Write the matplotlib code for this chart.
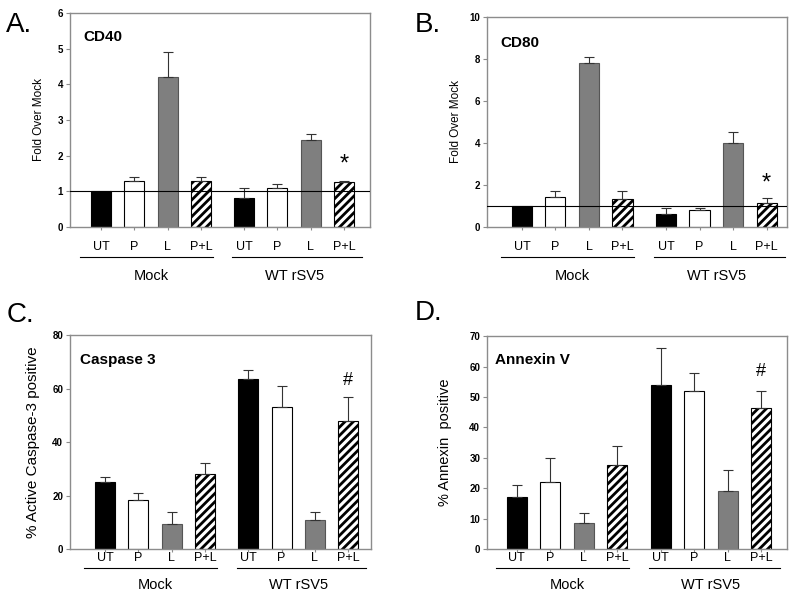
import matplotlib
matplotlib.use("Agg")
import matplotlib.pyplot as plt
import matplotlib.transforms as mtransforms

plt.rcParams["font.family"] = ["Liberation Sans", "DejaVu Sans"]
plt.rcParams["hatch.linewidth"] = 2.0

treatments = ["UT", "P", "L", "P+L"]
groups = ["Mock", "WT rSV5"]

# values (mean, top of error bar)
cd40_mean = [1.0, 1.3, 4.2, 1.3, 0.82, 1.1, 2.45, 1.25]
cd40_top = [1.0, 1.4, 4.9, 1.4, 1.1, 1.2, 2.6, 1.3]
cd80_mean = [1.0, 1.45, 7.8, 1.35, 0.6, 0.8, 4.0, 1.15]
cd80_top = [1.0, 1.7, 8.1, 1.7, 0.9, 0.9, 4.5, 1.4]
casp_mean = [25, 18.5, 9.5, 28, 63.5, 53, 11, 48]
casp_top = [27, 21, 14, 32, 67, 61, 14, 57]
annex_mean = [17, 22, 8.5, 27.5, 54, 52, 19, 46.5]
annex_top = [21, 30, 12, 34, 66, 58, 26, 52]

positions = [0, 1, 2, 3, 4.3, 5.3, 6.3, 7.3]
faces = ["black", "white", "#7f7f7f", "white"] * 2
edges = ["black", "black", "#555555", "black"] * 2
hatches = [None, None, None, "////"] * 2
spine_grey = "#8c8c8c"

fig = plt.figure(figsize=(8.0, 6.1), dpi=100)

panels = [
    # letter, title, ylabel, ylabel size, mean, top, ylim, yticks, rect, xlim,
    # letter xy, title xy, ylabel x, mark, mark y, mark size, label offsets(px), ref line
    ("A.", "CD40", "Fold Over Mock", 8.5, cd40_mean, cd40_top, 6, range(0, 7, 1),
     [0.0875, 0.6279, 0.375, 0.3508], (-0.93, 8.08), (0.008, 0.959), (0.043, 0.89), -0.083,
     "*", 1.75, 17, (20, 30, 49), True),
    ("B.", "CD80", "Fold Over Mock", 8.5, cd80_mean, cd80_top, 10, range(0, 11, 2),
     [0.6088, 0.6279, 0.375, 0.3443], (-1.04, 7.91), (0.518, 0.959), (0.043, 0.876), -0.083,
     "*", 2.05, 17, (20, 30, 49), True),
    ("C.", "Caspase 3", "% Active Caspase-3 positive", 11, casp_mean, casp_top, 80, range(0, 81, 20),
     [0.0875, 0.1, 0.376, 0.3508], (-1.05, 7.98), (0.008, 0.484), (0.033, 0.883), -0.1,
     "#", 63, 13, (9, 19, 36), False),
    ("D.", "Annexin V", "% Annexin  positive", 10.5, annex_mean, annex_top, 70, range(0, 71, 10),
     [0.6088, 0.1, 0.375, 0.349], (-0.89, 8.07), (0.518, 0.487), (0.027, 0.887), -0.117,
     "#", 58.5, 13, (9, 19, 36), False),
]

for (letter, title, ylabel, ylsize, mean, top, ymax, yticks, rect, xlim, lxy, txy,
     ylx, mark, marky, marksize, offs, refline) in panels:
    ax = fig.add_axes(rect)
    for i, x in enumerate(positions):
        ax.bar(x, mean[i], width=0.6, color=faces[i], edgecolor=edges[i],
               linewidth=0.8, hatch=hatches[i], zorder=2)
        err = top[i] - mean[i]
        if err > 0:
            ax.errorbar(x, mean[i], yerr=[[0], [err]], fmt="none", ecolor="#333333",
                        elinewidth=0.8, capsize=3.5, capthick=0.8, zorder=3)
    if refline:
        ax.axhline(1, color="black", linewidth=0.8, zorder=4)
    ax.set_ylim(0, ymax)
    ax.set_xlim(*xlim)
    ax.set_yticks(list(yticks))
    ax.set_xticks(positions)
    ax.set_xticklabels([])
    for s in ax.spines.values():
        s.set_color(spine_grey)
        s.set_linewidth(1.0)
    ax.tick_params(axis="y", direction="out", length=3, width=0.8, color=spine_grey,
                   labelsize=7, pad=2)
    ax.tick_params(axis="x", direction="out", length=2.5, width=0.8, color=spine_grey)
    for lab in ax.get_yticklabels():
        lab.set_fontweight("bold")
    ax.set_ylabel(ylabel, fontsize=ylsize)
    ax.yaxis.set_label_coords(ylx, 0.5)
    ax.text(txy[0], txy[1], title, transform=ax.transAxes, fontsize=11,
            fontweight="bold", va="center", ha="left")
    fig.text(lxy[0], lxy[1], letter, fontsize=20, va="center", ha="left")
    ax.text(positions[-1], marky, mark, fontsize=marksize, ha="center", va="center")

    # category labels, group lines and group names below the axis
    h_px = rect[3] * 610
    trans = mtransforms.blended_transform_factory(ax.transData, ax.transAxes)
    for i, x in enumerate(positions):
        ax.text(x, -offs[0] / h_px, treatments[i % 4], transform=trans,
                fontsize=9, ha="center", va="center")
    spans = [(positions[0] - 0.62, positions[3] + 0.35), (positions[4] - 0.35, positions[7] + 0.55)]
    for g, (x0, x1) in enumerate(spans):
        ax.plot([x0, x1], [-offs[1] / h_px] * 2, transform=trans, color="black",
                linewidth=0.8, clip_on=False)
        ax.text((positions[4 * g] + positions[4 * g + 3]) / 2, -offs[2] / h_px, groups[g],
                transform=trans, fontsize=10.5, ha="center", va="center")

fig.savefig("out.png", dpi=100)
